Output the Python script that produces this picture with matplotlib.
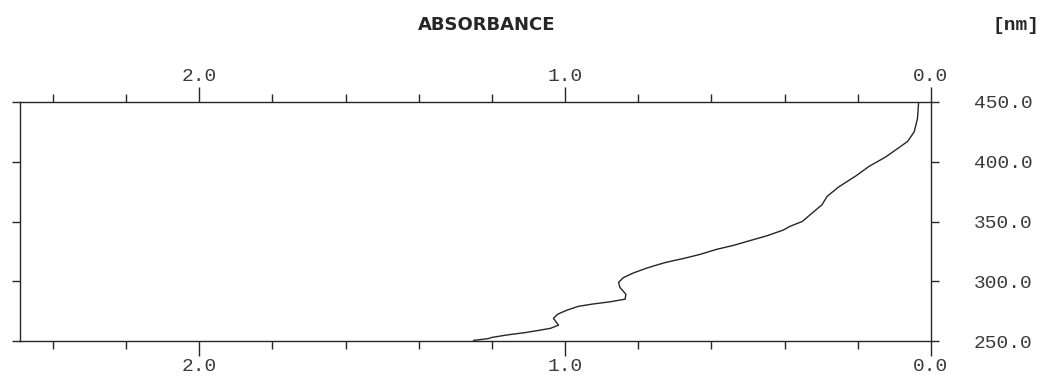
import matplotlib
matplotlib.use("Agg")
import matplotlib.pyplot as plt
from matplotlib.ticker import MultipleLocator, FixedLocator

# UV absorbance spectrum (wavelength in nm, absorbance)
wavelength_nm = [250.5, 252, 253, 255, 257, 259, 260.6, 263.3, 266, 269, 272.5,
                 275.8, 279, 281, 282.8, 285, 289, 292, 294.7, 299, 303, 307,
                 311, 314, 316, 319, 322.5, 326.7, 330, 334, 338, 342.8, 346,
                 350, 357, 364, 371, 379, 388, 396, 404, 410, 417, 425, 436,
                 449, 450]
absorbance = [1.25, 1.21, 1.20, 1.16, 1.11, 1.07, 1.04, 1.018, 1.025, 1.032, 1.02,
              0.995, 0.964, 0.923, 0.877, 0.836, 0.834, 0.842, 0.850, 0.854, 0.841, 0.813,
              0.777, 0.745, 0.722, 0.677, 0.631, 0.586, 0.540, 0.495, 0.449, 0.404, 0.385,
              0.352, 0.325, 0.298, 0.284, 0.252, 0.206, 0.170, 0.124, 0.096, 0.064, 0.046, 0.037,
              0.034, 0.034]

abs_ticks = [2.0, 1.0, 0.0]
abs_tick_labels = ["2.0", "1.0", "0.0"]
nm_ticks = [450.0, 400.0, 350.0, 300.0, 250.0]
nm_tick_labels = ["450.0", "400.0", "350.0", "300.0", "250.0"]

W, H = 1059, 377
fig = plt.figure(figsize=(W / 100, H / 100), dpi=100)
ax = fig.add_axes([20 / W, (H - 341) / H, 911 / W, 239 / H])

ink = "#262626"
mono = ["Liberation Mono", "DejaVu Sans Mono"]

ax.plot(absorbance, wavelength_nm, color=ink, lw=1.0)

ax.set_xlim(2.49, 0.0)
ax.set_ylim(250, 450)

for s in ax.spines.values():
    s.set_color(ink)
    s.set_linewidth(1.0)

# absorbance axis: labelled on top and bottom
ax.xaxis.set_major_locator(FixedLocator(abs_ticks))
ax.set_xticklabels(abs_tick_labels)
ax.xaxis.set_minor_locator(MultipleLocator(0.2))
ax.tick_params(axis="x", which="both", top=True, bottom=True,
               labeltop=True, labelbottom=True, direction="out",
               color=ink, width=1.0)
ax.tick_params(axis="x", which="major", length=11, pad=1)
ax.tick_params(axis="x", which="minor", length=6)

# wavelength axis: labelled on the right
ax.yaxis.set_major_locator(FixedLocator(nm_ticks))
ax.set_yticklabels(nm_tick_labels)
ax.tick_params(axis="y", which="major", left=True, right=True,
               labelleft=False, labelright=True, direction="out",
               length=6, width=1.0, color=ink, pad=25)

for lab in ax.get_xticklabels() + ax.get_yticklabels():
    lab.set_family(mono)
    lab.set_fontsize(14)
    lab.set_color("#3a3a3a")
for lab in ax.get_yticklabels():
    lab.set_horizontalalignment("left")

fig.text(487 / W, 1 - 25 / H, "ABSORBANCE", family="DejaVu Sans", fontsize=13,
         fontweight="bold", color=ink, ha="center", va="center")
fig.text(1016 / W, 1 - 25 / H, "[nm]", family=mono, fontsize=14,
         fontweight="bold", color=ink, ha="center", va="center")

fig.savefig("out.png", dpi=100)
